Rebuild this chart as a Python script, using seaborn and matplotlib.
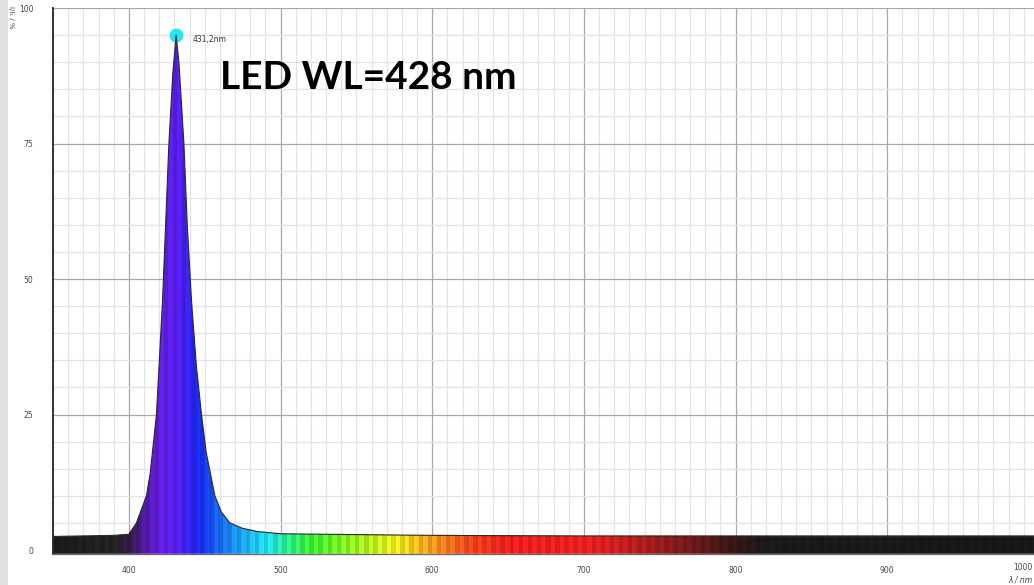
import numpy as np
import pandas as pd
import matplotlib
matplotlib.use("Agg")
import matplotlib.pyplot as plt
import seaborn as sns
from matplotlib.colors import LinearSegmentedColormap
from matplotlib.ticker import MultipleLocator, FixedLocator
from matplotlib.patches import Rectangle

# spectrum of the LED (wavelength in nm, relative intensity in %)
wavelength = [350, 370, 390, 400, 405, 411.6, 414, 418.2, 422.2, 426.4, 429, 431.2,
              433, 436.3, 438.5, 441.3, 444.5, 447.9, 451, 456.7, 461, 466.6, 475, 485,
              500, 530, 600, 700, 800, 900, 1000]
intensity = [2.5, 2.6, 2.7, 2.9, 5.0, 10, 14, 25, 46, 75, 88, 95,
             90, 75, 60, 46, 34, 25, 18, 10, 7, 5, 4, 3.4,
             3.0, 2.9, 2.7, 2.6, 2.6, 2.6, 2.6]
peak_wl = 431.2
peak_val = 95
peak_label = "431,2nm"
title = "LED WL=428 nm"
x_ticks = [400, 500, 600, 700, 800, 900, 1000]
y_ticks = [0, 25, 50, 75, 100]

df = pd.DataFrame({"wl": wavelength, "I": intensity})

sns.set_style("white")
plt.rcParams["font.family"] = ["DejaVu Sans"]

fig = plt.figure(figsize=(10.34, 5.85), dpi=100)
# grey strip on the left edge
fig.patches.append(Rectangle((0, 0), 8 / 1034, 1, transform=fig.transFigure,
                             facecolor="#e1e1e1", edgecolor="none", zorder=0))
ax = fig.add_axes([53 / 1034, (585 - 553.8) / 585, (1039 - 53) / 1034, (553.8 - 8) / 585])

ymin = -0.7
ax.set_xlim(350, 1000)
ax.set_ylim(ymin, 100)

# grid
ax.xaxis.set_major_locator(MultipleLocator(50))
ax.xaxis.set_minor_locator(MultipleLocator(10))
ax.yaxis.set_major_locator(MultipleLocator(25))
ax.yaxis.set_minor_locator(MultipleLocator(5))
ax.grid(which="major", color="#a8a8a8", lw=0.9)
ax.grid(which="minor", color="#e3e3e3", lw=0.9)
ax.set_axisbelow(True)

# spectral colouring, clipped to the area under the curve
anchors = [(350, "#1c1c1c"), (390, "#262626"), (400, "#3a1c52"), (410, "#5a1cb8"),
           (420, "#6a20f0"), (432, "#5a20ff"), (445, "#1a2cff"), (460, "#1a78ff"),
           (475, "#20b4ff"), (490, "#22f0ff"), (505, "#30ff90"), (520, "#40ff30"),
           (550, "#a8ff20"), (575, "#ffff20"), (600, "#ffa020"), (625, "#ff4a1e"),
           (650, "#ff2020"), (700, "#ff2222"), (740, "#b82020"), (775, "#6e1c1c"),
           (800, "#3a1818"), (820, "#1c1c1c"), (1000, "#1a1a1a")]
span = 1000 - 350
cmap = LinearSegmentedColormap.from_list(
    "spec", [((w - 350) / span, c) for w, c in anchors])
cols = np.arange(350, 1000, 0.5)
rgb = cmap((cols - 350) / span)[:, :3]
shade = np.where((cols // 3) % 2 == 0, 1.0, 0.86)
rgb = rgb * shade[:, None]
img = ax.imshow(rgb[None, :, :], extent=(350, 1000, ymin, 100), aspect="auto",
                interpolation="nearest", zorder=2)
poly = ax.fill_between(df["wl"], ymin, df["I"], color="none", lw=0, zorder=2)
clip = poly.get_paths()[0]
img.set_clip_path(clip, transform=ax.transData)

sns.lineplot(data=df, x="wl", y="I", ax=ax, color="#2a2a2a", lw=0.8, zorder=4)

# peak marker
ax.plot([peak_wl], [peak_val], "o", ms=9, color="#22e6f2", zorder=3)
ax.text(peak_wl + 11, peak_val - 0.8, peak_label, fontsize=5.5, color="#333333",
        va="center", ha="left", zorder=5)

ax.text(460, 87.2, title, fontsize=28, fontweight="bold", family=["Lato", "DejaVu Sans"],
        color="black", va="center", ha="left", zorder=5)

# axes styling
for s in ["top", "right"]:
    ax.spines[s].set_visible(False)
ax.spines["left"].set_color("#222222")
ax.spines["left"].set_linewidth(1.3)
ax.spines["bottom"].set_color("#666666")
ax.spines["bottom"].set_linewidth(0.9)
ax.spines["bottom"].set_zorder(5)

ax.set_xticks(x_ticks)
# last label sits at the figure edge; it is drawn shifted left below
ax.set_xticklabels([str(t) for t in x_ticks[:-1]] + [""])
ax.xaxis.set_minor_locator(FixedLocator(np.arange(350, 1001, 10)))
ax.set_yticks(y_ticks)
ax.set_yticklabels([str(t) for t in y_ticks])
ax.tick_params(axis="both", which="major", direction="out", length=8, width=0.9,
               color="#777777", labelsize=5.5, labelcolor="#444444")
ax.tick_params(axis="x", which="major", pad=1)
ax.tick_params(axis="y", which="major", pad=6)
ax.tick_params(axis="both", which="minor", direction="out", length=5, width=0.9,
               color="#777777")
ax.set_xlabel("")
ax.set_ylabel("")

ax.annotate(str(x_ticks[-1]), xy=(x_ticks[-1], 0), xycoords=ax.get_xaxis_transform(),
            xytext=(-16, -9.5), textcoords="offset pixels", ha="center", va="top",
            fontsize=5.5, color="#444444", annotation_clip=False)

fig.text(1032 / 1034, 1 - 580 / 585, "λ / nm", fontsize=5.5, style="italic",
         color="#444444", ha="right", va="center")
fig.text(11 / 1034, 1 - 17 / 585, "I/I₁ / %", fontsize=5, rotation=-90,
         color="#444444", ha="center", va="center")

fig.savefig("out.png", dpi=100)
